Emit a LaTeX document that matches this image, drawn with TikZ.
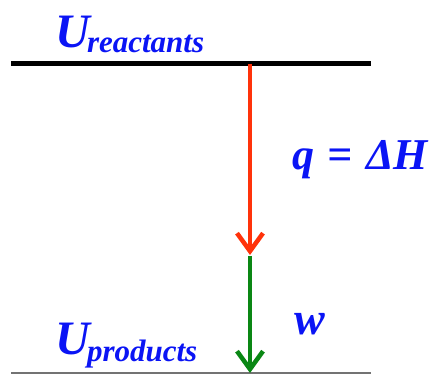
\documentclass[tikz,border=0pt]{standalone}
\usepackage{fontspec}
\setmainfont{Liberation Serif}
\usetikzlibrary{arrows.meta}
\definecolor{ublue}{RGB}{10,20,245}
\definecolor{qred}{RGB}{255,50,10}
\definecolor{wgreen}{RGB}{10,135,20}
\tikzset{
  lbl/.style={inner sep=0pt, outer sep=0pt, anchor=base west, text=ublue, font=\bfseries\itshape},
  bigU/.style={lbl, font=\bfseries\itshape\fontsize{48}{48}\selectfont},
  sub/.style={lbl, font=\bfseries\itshape\fontsize{31}{30}\selectfont},
  eqn/.style={lbl, font=\bfseries\itshape\fontsize{44}{44}\selectfont},
  level/.style={line width=5pt, black},
  baseline level/.style={line width=1.5pt, black!55},
  flow/.style={line width=4.5pt, -{Straight Barb[length=18pt,width=26pt,line width=4.5pt]}},
}
\begin{document}
\begin{tikzpicture}[x=1pt,y=1pt]
\useasboundingbox (0,0) rectangle (444,374);
\coordinate (topL) at (11,310);
\coordinate (topR) at (371,310);
\coordinate (botL) at (11,1);
\coordinate (botR) at (371,1);
\coordinate (a0) at (250,310);
\coordinate (a1) at (250,119);
\coordinate (a2) at (250,118);
\coordinate (a3) at (250,1);
\draw[level] (topL) -- (topR);
\draw[baseline level] (botL) -- (botR);
\draw[flow, qred] (a0) -- (a1);
\draw[flow, wgreen] (a2) -- (a3);
\node[bigU] (ur) at (55,326) {U};
\node[sub] (urs) at (87,321) {reactants};
\node[bigU] (up) at (55,19) {U};
\node[sub] (ups) at (87,12) {products};
\node[eqn] (q) at (292,204) {q\hspace{14pt}=\hspace{13pt}ΔH};
\node[eqn, font=\bfseries\itshape\fontsize{46}{46}\selectfont] (w) at (294,39) {w};
\end{tikzpicture}
\end{document}
